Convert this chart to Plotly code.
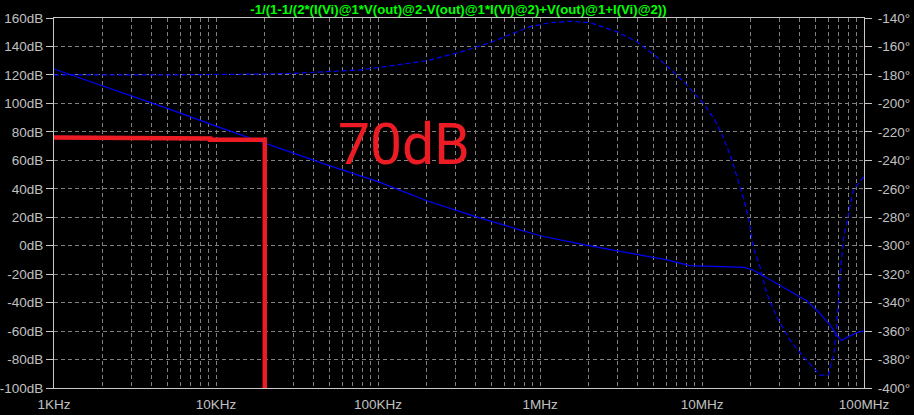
import plotly.graph_objects as go

# ---------------- data ----------------
mag_freq = [1e3, 2e3, 5e3, 10e3, 20e3, 50e3, 100e3, 200e3, 400e3, 1e6, 2e6, 3.9e6,
            6.1e6, 8.4e6, 10e6, 18.2e6, 20.7e6, 23.9e6, 30.3e6, 38.4e6, 44.3e6,
            52.2e6, 61.7e6, 67.8e6, 72.8e6, 78.2e6, 90.1e6, 100e6]
mag_db = [124.2, 112.4, 96.5, 84.0, 72.0, 56.3, 45.0, 31.6, 20.4, 7.0, 0.0, -6.3,
          -10.0, -14.0, -14.3, -15.2, -17.1, -21.3, -28.3, -34.7, -38.7,
          -46.4, -55.7, -62.8, -66.8, -64.4, -61.2, -59.8]

phase_freq = [1e3, 5e3, 18.7e3, 30e3, 48.2e3, 77.4e3, 118.6e3, 200e3, 320e3, 500e3,
              868e3, 1.15e6, 1.53e6, 2.04e6, 2.97e6, 3.95e6, 5.25e6, 6.98e6, 8.43e6,
              10.2e6, 12.0e6, 13.5e6, 15.3e6, 17.2e6, 18.4e6, 19.8e6, 20.7e6, 22.8e6,
              25.1e6, 28.9e6, 34.9e6, 42.2e6, 49.9e6, 53.5e6, 60.2e6, 65.3e6, 67.8e6,
              71.1e6, 74.5e6, 80e6, 85.9e6, 100e6]
phase_deg = [-180.0, -180.0, -179.4, -178.9, -177.7, -176.5, -173.7, -170.0, -164.1, -157.0,
             -146.1, -143.3, -142.3, -143.3, -149.6, -156.6, -167.2, -180.0, -189.4,
             -200.0, -211.7, -223.4, -239.8, -258.5, -270.2, -286.7, -300.7, -314.8,
             -333.5, -349.9, -366.3, -378.0, -387.4, -390.9, -390.9, -375.6, -356.9,
             -321.8, -296.0, -277.3, -260.9, -251.5]

# hand-drawn red marker (frequency, dB)
marker_freq = [1e3, 2e3, 2e3, 9.2e3, 9.2e3, 20e3, 20e3]
marker_db = [76.0, 76.0, 75.3, 75.3, 74.4, 74.4, -100.0]
marker_label = "70dB"

title_text = "-1/(1-1/(2*(I(Vi)@1*V(out)@2-V(out)@1*I(Vi)@2)+V(out)@1+I(Vi)@2))"

x_decades = [1e3, 1e4, 1e5, 1e6, 1e7, 1e8]
x_decade_labels = ["1KHz", "10KHz", "100KHz", "1MHz", "10MHz", "100MHz"]
db_ticks = list(range(-100, 161, 20))
db_labels = [f"{v}dB" for v in db_ticks]
deg_ticks = list(range(-400, -139, 20))
deg_labels = [f"{v}\u00b0" for v in deg_ticks]

# ---------------- figure ----------------
x_tickvals = []
x_ticktext = []
for d, lab in zip(x_decades, x_decade_labels):
    if d == x_decades[-1]:
        x_tickvals.append(d)
        x_ticktext.append(lab)
        break
    for m in range(1, 10):
        x_tickvals.append(d * m)
        x_ticktext.append(lab if m == 1 else "")

LABEL = "#c0c0c0"
GRID = "#808080"
AXLINE = "#c8c8c8"
FONT = "Liberation Sans, Arial, sans-serif"
TICKFONT = dict(family=FONT, size=13.5, color=LABEL)

fig = go.Figure()
fig.add_trace(go.Scatter(x=mag_freq, y=mag_db, mode="lines",
                         line=dict(color="#0000ff", width=1.2), yaxis="y",
                         showlegend=False, hoverinfo="skip"))
fig.add_trace(go.Scatter(x=phase_freq, y=phase_deg, mode="lines",
                         line=dict(color="#0000ff", width=1.2, dash="5px,3px"),
                         yaxis="y2", showlegend=False, hoverinfo="skip"))
fig.add_trace(go.Scatter(x=marker_freq, y=marker_db, mode="lines",
                         line=dict(color="#ed1c24", width=4.5), yaxis="y",
                         showlegend=False, hoverinfo="skip"))

fig.update_layout(
    width=914, height=415,
    margin=dict(l=54, r=50, t=18, b=27, pad=0, autoexpand=False),
    paper_bgcolor="black", plot_bgcolor="black",
    font=dict(family=FONT, size=14, color=LABEL),
    title=dict(text=title_text, x=0.5016, xanchor="center", y=1 - 9.5 / 415,
               yanchor="middle", automargin=False,
               font=dict(family=FONT, size=13.2, color="#00ff00", weight="bold")),
    xaxis=dict(type="log", range=[3, 8], tickvals=x_tickvals, ticktext=x_ticktext,
               showgrid=True, gridcolor=GRID, griddash="4px,3px", gridwidth=1,
               showline=True, linecolor=AXLINE, linewidth=1, mirror=True,
               ticks="", zeroline=False, automargin=False, ticklabelstandoff=4,
               tickfont=TICKFONT),
    yaxis=dict(range=[-100, 160], tickvals=db_ticks, ticktext=db_labels,
               showgrid=True, gridcolor=GRID, griddash="4px,3px", gridwidth=1,
               showline=True, linecolor=AXLINE, linewidth=1,
               ticks="outside", ticklen=7, tickcolor=AXLINE, zeroline=False,
               automargin=False, tickfont=TICKFONT),
    yaxis2=dict(range=[-400, -140], tickvals=deg_ticks, ticktext=deg_labels,
                overlaying="y", side="right", showgrid=False,
                showline=True, linecolor=AXLINE, linewidth=1,
                ticks="outside", ticklen=7, tickcolor=AXLINE, zeroline=False,
                automargin=False, ticklabelstandoff=3, tickfont=TICKFONT),
    annotations=[dict(text=marker_label, xref="paper", yref="paper",
                      x=(404 - 54) / 810, y=(388 - 144) / 370,
                      xanchor="center", yanchor="middle", showarrow=False,
                      font=dict(family="Roboto, sans-serif", size=57, color="#ed1c24"))],
)

fig.write_html("out.html",
               config={"displayModeBar": False},
               post_script="document.body.style.margin='0';"
                           "document.body.style.background='black';"
                           "document.body.style.overflow='hidden';")
